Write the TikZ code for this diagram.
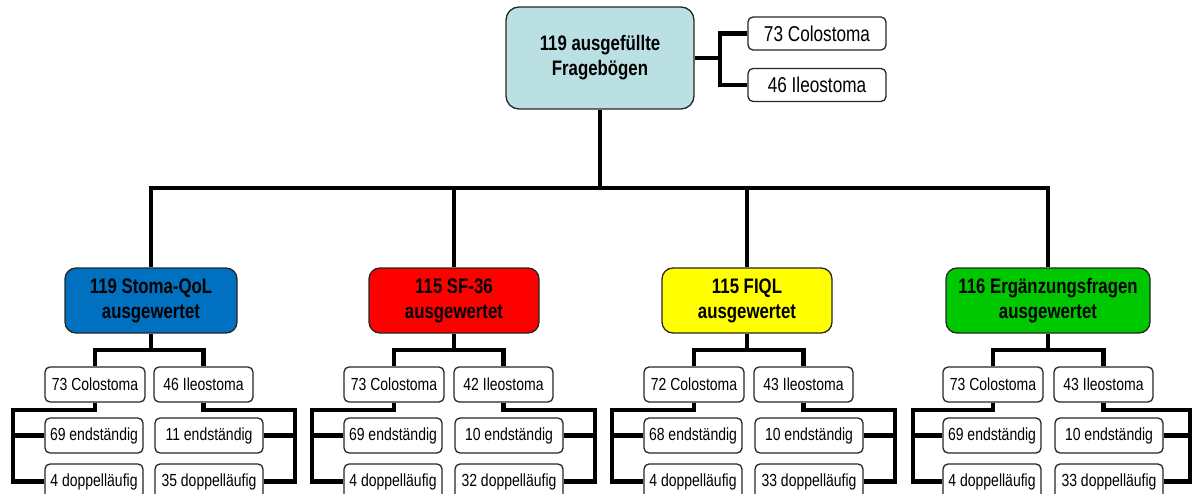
\documentclass[tikz,border=0pt]{standalone}
\usepackage{fontspec}
\setmainfont[FakeStretch=0.8]{Liberation Sans}
\definecolor{topfill}{RGB}{187,224,228}
\definecolor{qolblue}{RGB}{0,112,192}
\definecolor{sfred}{RGB}{255,0,0}
\definecolor{fiqlyellow}{RGB}{255,255,0}
\definecolor{ergreen}{RGB}{0,200,0}
\begin{document}
\begin{tikzpicture}[x=1pt,y=-1pt,
  sbox/.style={draw=black!85, line width=1.3, rounded corners=5, fill=white, inner sep=0,
    minimum height=35, font=\fontsize{17.5}{20}\selectfont},
  tbox/.style={draw=black!85, line width=1.3, rounded corners=5, fill=white, inner sep=0,
    minimum width=138, minimum height=33, font=\fontsize{21.5}{24}\selectfont},
  gbox/.style={draw=black!85, line width=1.3, rounded corners=11, inner sep=0, align=center,
    minimum height=65, font=\bfseries\fontsize{21}{25}\selectfont},
  conn/.style={line width=4.5, line join=miter}]
\useasboundingbox (0,0) rectangle (1193,494);
\clip (0,0) rectangle (1193,494);

% top
\node[gbox, fill=topfill, rounded corners=13, minimum width=188, minimum height=102] (top) at (600,58) {119 ausgefüllte\\Fragebögen};
\node[tbox] (tc) at (817,33.5) {73 Colostoma};
\node[tbox] (ti) at (817,85) {46 Ileostoma};
\coordinate (tj) at (720,58);
\draw[conn] (top.east) -- (tj);
\draw[conn] (tc.west) -| (tj) |- (ti.west);

% group boxes
\node[gbox, fill=qolblue, minimum width=172] (g1) at (151,300.5) {119 Stoma-QoL\\ausgewertet};
\node[gbox, fill=sfred, minimum width=170] (g2) at (454,300.5) {115 SF-36\\ausgewertet};
\node[gbox, fill=fiqlyellow, minimum width=170] (g3) at (747,300.5) {115 FIQL\\ausgewertet};
\node[gbox, fill=ergreen, minimum width=204] (g4) at (1048,300.5) {116 Ergänzungsfragen\\ausgewertet};

\coordinate (bus) at (600,188);
\draw[conn] (top.south) -- (bus);
\draw[conn] (g1.north) -- (g1.north |- bus) -- (g4.north |- bus) -- (g4.north);
\draw[conn] (g2.north) -- (g2.north |- bus);
\draw[conn] (g3.north) -- (g3.north |- bus);

% group 1
\node[sbox, minimum width=100] (c1) at (95,384.5) {73 Colostoma};
\node[sbox, minimum width=99] (i1) at (203.5,384.5) {46 Ileostoma};
\node[sbox, minimum width=98] (e1) at (94,435.5) {69 endständig};
\node[sbox, minimum width=98] (d1) at (94,481.5) {4 doppelläufig};
\node[sbox, minimum width=108] (f1) at (209,435.5) {11 endständig};
\node[sbox, minimum width=108] (h1) at (209,481.5) {35 doppelläufig};
\coordinate (j1) at (151,350);
\coordinate (lb1) at (13,410);
\coordinate (rb1) at (295,410);
\draw[conn] (g1.south) -- (j1);
\draw[conn] (c1.north) |- (j1) -| (i1.north);
\draw[conn] (c1.south) |- (lb1) |- (d1.west);
\draw[conn] (lb1 |- e1.west) -- (e1.west);
\draw[conn] (i1.south) |- (rb1) |- (h1.east);
\draw[conn] (rb1 |- f1.east) -- (f1.east);

% group 2
\node[sbox, minimum width=100] (c2) at (394,384.5) {73 Colostoma};
\node[sbox, minimum width=99] (i2) at (503.5,384.5) {42 Ileostoma};
\node[sbox, minimum width=98] (e2) at (393,435.5) {69 endständig};
\node[sbox, minimum width=98] (d2) at (393,481.5) {4 doppelläufig};
\node[sbox, minimum width=108] (f2) at (509,435.5) {10 endständig};
\node[sbox, minimum width=108] (h2) at (509,481.5) {32 doppelläufig};
\coordinate (j2) at (454,350);
\coordinate (lb2) at (312,410);
\coordinate (rb2) at (595,410);
\draw[conn] (g2.south) -- (j2);
\draw[conn] (c2.north) |- (j2) -| (i2.north);
\draw[conn] (c2.south) |- (lb2) |- (d2.west);
\draw[conn] (lb2 |- e2.west) -- (e2.west);
\draw[conn] (i2.south) |- (rb2) |- (h2.east);
\draw[conn] (rb2 |- f2.east) -- (f2.east);

% group 3
\node[sbox, minimum width=100] (c3) at (694,384.5) {72 Colostoma};
\node[sbox, minimum width=99] (i3) at (803.5,384.5) {43 Ileostoma};
\node[sbox, minimum width=98] (e3) at (693,435.5) {68 endständig};
\node[sbox, minimum width=98] (d3) at (693,481.5) {4 doppelläufig};
\node[sbox, minimum width=108] (f3) at (809,435.5) {10 endständig};
\node[sbox, minimum width=108] (h3) at (809,481.5) {33 doppelläufig};
\coordinate (j3) at (747,350);
\coordinate (lb3) at (612,410);
\coordinate (rb3) at (895,410);
\draw[conn] (g3.south) -- (j3);
\draw[conn] (c3.north) |- (j3) -| (i3.north);
\draw[conn] (c3.south) |- (lb3) |- (d3.west);
\draw[conn] (lb3 |- e3.west) -- (e3.west);
\draw[conn] (i3.south) |- (rb3) |- (h3.east);
\draw[conn] (rb3 |- f3.east) -- (f3.east);

% group 4
\node[sbox, minimum width=100] (c4) at (993,384.5) {73 Colostoma};
\node[sbox, minimum width=99] (i4) at (1103.5,384.5) {43 Ileostoma};
\node[sbox, minimum width=98] (e4) at (992,435.5) {69 endständig};
\node[sbox, minimum width=98] (d4) at (992,481.5) {4 doppelläufig};
\node[sbox, minimum width=108] (f4) at (1109,435.5) {10 endständig};
\node[sbox, minimum width=108] (h4) at (1109,481.5) {33 doppelläufig};
\coordinate (j4) at (1048,350);
\coordinate (lb4) at (913,410);
\coordinate (rb4) at (1190,410);
\draw[conn] (g4.south) -- (j4);
\draw[conn] (c4.north) |- (j4) -| (i4.north);
\draw[conn] (c4.south) |- (lb4) |- (d4.west);
\draw[conn] (lb4 |- e4.west) -- (e4.west);
\draw[conn] (i4.south) |- (rb4) |- (h4.east);
\draw[conn] (rb4 |- f4.east) -- (f4.east);
\end{tikzpicture}
\end{document}
